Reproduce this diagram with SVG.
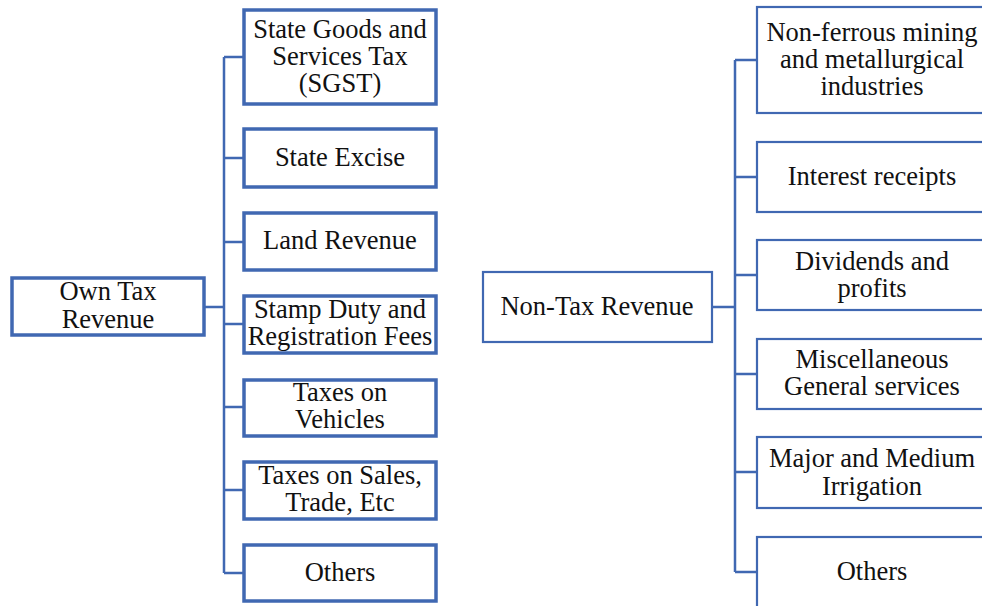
<svg xmlns="http://www.w3.org/2000/svg" width="982" height="606" viewBox="0 0 982 606" font-family="Liberation Serif, Times New Roman, serif">
<style>
.bx{fill:#fff;stroke:#4068B2;stroke-width:3.5}
.bx2{fill:#fff;stroke:#4068B2;stroke-width:2.2}
.ln{fill:none;stroke:#4068B2;stroke-width:2.5}
text{font-family:'Liberation Serif','Times New Roman',serif;font-size:26.5px;fill:#111;text-anchor:middle}
</style>
<rect width="982" height="606" fill="#fff"/>
<g id="connectors">
<path class="ln" d="M224 57V573M224 57H244M224 158H244M224 242H244M224 324H244M224 407H244M224 490H244M224 573H244M204 307H224"/>
<path class="ln" d="M735 60V572M735 60H757M735 177H757M735 275H757M735 374H757M735 472H757M735 572H757M712 307H735"/>
</g>
<g id="own-tax"><rect class="bx" x="12" y="278" width="192" height="57"/><text x="108" y="300">Own Tax</text><text x="108" y="328">Revenue</text></g>
<g id="sgst"><rect class="bx" x="244" y="10" width="192" height="94"/><text x="340" y="38">State Goods and</text><text x="340" y="65">Services Tax</text><text x="340" y="92">(SGST)</text></g>
<g id="excise"><rect class="bx" x="244" y="129" width="192" height="58"/><text x="340" y="166">State Excise</text></g>
<g id="land"><rect class="bx" x="244" y="213" width="192" height="57"/><text x="340" y="249">Land Revenue</text></g>
<g id="stamp"><rect class="bx" x="244" y="296" width="192" height="57"/><text x="340" y="318">Stamp Duty and</text><text x="340" y="345">Registration Fees</text></g>
<g id="vehicles"><rect class="bx" x="244" y="380" width="192" height="56"/><text x="340" y="401">Taxes on</text><text x="340" y="428">Vehicles</text></g>
<g id="sales"><rect class="bx" x="244" y="462" width="192" height="57"/><text x="340" y="484">Taxes on Sales,</text><text x="340" y="511">Trade, Etc</text></g>
<g id="others-left"><rect class="bx" x="244" y="545" width="192" height="56"/><text x="340" y="581">Others</text></g>
<g id="non-tax"><rect class="bx2" x="483" y="272" width="229" height="70"/><text x="597" y="315">Non-Tax Revenue</text></g>
<g id="mining"><rect class="bx2" x="757" y="7" width="240" height="106"/><text x="872" y="41">Non-ferrous mining</text><text x="872" y="68">and metallurgical</text><text x="872" y="95">industries</text></g>
<g id="interest"><rect class="bx2" x="757" y="142" width="240" height="70"/><text x="872" y="185">Interest receipts</text></g>
<g id="dividends"><rect class="bx2" x="757" y="240" width="240" height="70"/><text x="872" y="270">Dividends and</text><text x="872" y="297">profits</text></g>
<g id="misc"><rect class="bx2" x="757" y="339" width="240" height="70"/><text x="872" y="368">Miscellaneous</text><text x="872" y="395">General services</text></g>
<g id="irrigation"><rect class="bx2" x="757" y="437" width="240" height="71"/><text x="872" y="467">Major and Medium</text><text x="872" y="495">Irrigation</text></g>
<g id="others-right"><rect class="bx2" x="757" y="537" width="240" height="80"/><text x="872" y="580">Others</text></g>
</svg>
